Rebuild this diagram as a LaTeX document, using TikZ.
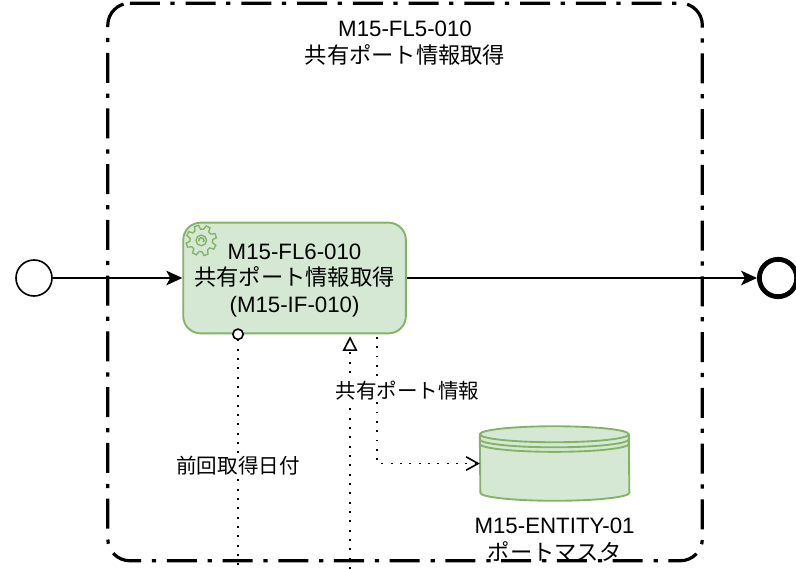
\documentclass[tikz,border=0pt]{standalone}
\usepackage{fontspec}
\setmainfont{Liberation Sans}
\newfontfamily\cjk{Noto Sans CJK JP}
\usetikzlibrary{arrows.meta}
\definecolor{taskFill}{HTML}{D5E8D4}
\definecolor{taskLine}{HTML}{82B366}
\tikzstyle{startEvent} = [circle, minimum size=27pt, inner sep=0pt, line width=1.2pt, draw=black]
\tikzstyle{endEvent} = [circle, minimum size=28pt, inner sep=0pt, line width=3.6pt, draw=black]
\tikzstyle{taskBox} = [rectangle, rounded corners=13pt, minimum width=167pt, minimum height=83pt, align=center, inner sep=0pt, line width=1.4pt, draw=taskLine, fill=taskFill, font=\fontsize{16.7}{20}\selectfont]
\tikzstyle{subFlow} = [rectangle, minimum width=445.5pt, minimum height=417.75pt]
\tikzstyle{subFlowLine} = [rounded corners=16.5pt, line width=2.4pt, draw=black, dash pattern=on 22.5pt off 8pt on 3.2pt off 8.11pt]
\tikzstyle{bigLabel} = [align=center, inner sep=0pt, font=\fontsize{16.7}{20}\selectfont]
\tikzstyle{edgeLabel} = [fill=white, inner sep=1.5pt, font=\fontsize{15.4}{18}\selectfont]
\tikzstyle{storeBox} = [rectangle, minimum width=111.75pt, minimum height=55.5pt, inner sep=0pt]
\tikzstyle{storeLine} = [line width=1.4pt, draw=taskLine]
\tikzstyle{seqArrow} = [line width=1.2pt, -{Stealth[length=12pt, width=11pt, inset=3pt]}]
\tikzstyle{msgLine} = [line width=1.4pt, dash pattern=on 1.4pt off 5.6pt]
\tikzset{gearIcon/.pic={
  \draw [line width=1pt, draw=taskLine] (0:8.5pt)
    \foreach \a in {0,45,...,315} { -- (\a+4:8.5pt) -- (\a+10:11.5pt) -- (\a+26:11.5pt) -- (\a+34:8.5pt) } -- cycle;
  \draw [line width=1pt, draw=taskLine] (0,0) circle (4pt);
  \draw [line width=1.2pt, draw=taskLine] (-40:2pt) arc (-40:200:2pt);
}}
\begin{document}
\begin{tikzpicture}[node distance=1cm]
\useasboundingbox (0,0) rectangle (597pt,426.75pt);
\node (start) [startEvent] at (25.5pt,218.25pt) {};
\node (task) [taskBox, right of=start, xshift=5.868cm] {\rule{0pt}{15pt}M15-FL6-010\\{\cjk 共有ポート情報取得}\\(M15-IF-010)};
\node (end) [endEvent, right of=task, xshift=11.745cm] {};
\node (frame) [subFlow, right of=task, xshift=1.913cm, yshift=-0.105cm] {};
\node (frameTitle) [bigLabel, above of=frame, yshift=5.30cm] {M15-FL5-010\\{\cjk 共有ポート情報取得}};
\node (store) [storeBox, right of=task, xshift=5.854cm, yshift=-4.89cm] {};
\node (storeTitle) [bigLabel, below of=store, yshift=-1.017cm] {M15-ENTITY-01\\{\cjk ポートマスタ}};
\coordinate (prevTop) at ([xshift=-42.4pt]task.south);
\coordinate (portTop) at ([xshift=41.6pt]task.south);
\coordinate (saveTop) at ([xshift=62pt]task.south);
\coordinate (prevOut) at (prevTop |- 0,0);
\coordinate (portOut) at (portTop |- 0,0);
\pic at ([xshift=14.25pt,yshift=-14pt]task.north west) {gearIcon};

\draw [subFlowLine] ([xshift=16.5pt]frame.north west) -- (frame.north east) -- (frame.south east) -- (frame.south west) -- (frame.north west) -- ([xshift=16.5pt]frame.north west);

\fill [taskFill] ([yshift=-6pt]store.north west) arc [start angle=180, end angle=0, x radius=55.875pt, y radius=6pt] -- ([yshift=6pt]store.south east) arc [start angle=0, end angle=-180, x radius=55.875pt, y radius=6pt] -- cycle;
\draw [storeLine] ([yshift=-6pt]store.north west) arc [start angle=180, end angle=0, x radius=55.875pt, y radius=6pt] -- ([yshift=6pt]store.south east) arc [start angle=0, end angle=-180, x radius=55.875pt, y radius=6pt] -- cycle;
\draw [storeLine] ([yshift=-6pt]store.north west) arc [start angle=180, end angle=360, x radius=55.875pt, y radius=6pt];
\draw [storeLine] ([yshift=-9.8pt]store.north west) arc [start angle=180, end angle=360, x radius=55.875pt, y radius=6pt];
\draw [storeLine] ([yshift=-13.2pt]store.north west) arc [start angle=180, end angle=360, x radius=55.875pt, y radius=6pt];

\draw [seqArrow] (start) -- (task);
\draw [seqArrow] (task) -- (end);
\draw [msgLine, {Circle[open, length=9pt, width=9pt, line width=1.2pt, fill=white]}-, shorten <=-4.5pt] (prevTop) -- (prevOut) node [edgeLabel, pos=0.56] {\cjk 前回取得日付};
\draw [msgLine, -{Triangle[open, length=11pt, width=11pt, line width=1.2pt]}, shorten >=1.5pt] (portOut) -- (portTop);
\draw [msgLine, -{Straight Barb[length=9pt, width=10pt, line width=1.2pt]}, shorten <=2pt] (saveTop) |- (store.west);
\node (portInfo) [edgeLabel, below of=task, xshift=2.98cm, yshift=-1.966cm] {\cjk 共有ポート情報};
\end{tikzpicture}
\end{document}
